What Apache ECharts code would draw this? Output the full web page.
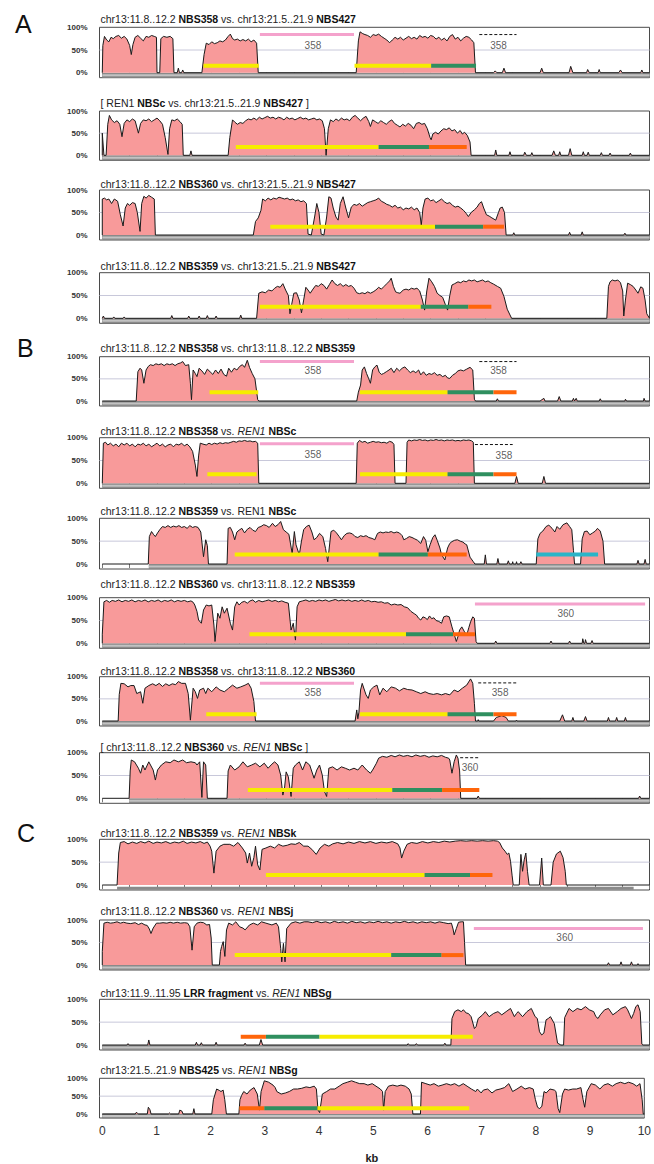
<!DOCTYPE html>
<html><head><meta charset="utf-8">
<script src="https://cdn.jsdelivr.net/npm/echarts@6.0.0/dist/echarts.min.js"></script>
<style>html,body{margin:0;padding:0;background:#fff}#c{width:654px;height:1164px}</style>
</head><body><div id="c"></div>
<script>
// ---------- DATA (kb, % identity) ----------
const p1 = [[0,0],[0.01,60],[0.04,80],[0.08,72],[0.12,68],[0.16,78],[0.2,75],[0.25,80],[0.3,82],[0.35,76],[0.4,80],[0.45,74],[0.5,60],[0.53,40],[0.56,62],[0.6,78],[0.65,82],[0.7,76],[0.75,70],[0.8,80],[0.85,78],[0.9,82],[0.95,80],[0.99,78],[1.0,0],[1.05,0],[1.07,75],[1.12,80],[1.18,78],[1.24,80],[1.29,75],[1.31,0],[1.37,0],[1.39,10],[1.41,0],[1.45,0],[1.47,6],[1.49,0],
[1.82,0],[1.86,40],[1.9,65],[1.95,62],[2.0,68],[2.05,64],[2.1,66],[2.15,70],[2.2,68],[2.25,72],[2.3,80],[2.34,85],[2.38,75],[2.42,72],[2.47,74],[2.52,70],[2.57,73],[2.62,70],[2.67,74],[2.72,68],[2.77,72],[2.82,65],[2.85,0],
[4.64,0],[4.68,70],[4.71,90],[4.76,86],[4.8,84],[4.85,82],[4.9,78],[4.95,84],[5.0,82],[5.05,85],[5.1,80],[5.15,76],[5.2,72],[5.25,66],[5.3,72],[5.35,78],[5.4,74],[5.45,78],[5.5,72],[5.55,76],[5.6,80],[5.65,75],[5.7,78],[5.75,74],[5.8,82],[5.85,78],[5.9,80],[5.95,76],[6.0,82],[6.05,80],[6.1,74],[6.15,78],[6.2,72],[6.25,76],[6.3,70],[6.35,80],[6.4,84],[6.45,74],[6.5,78],[6.55,70],[6.6,76],[6.65,80],[6.7,78],[6.75,72],[6.79,66],[6.82,0],
[7.15,0],[7.18,4],[7.21,0],[7.31,0],[7.34,10],[7.37,0],[8.0,0],[8.03,10],[8.06,0],[8.53,0],[8.56,14],[8.6,0],[8.85,0],[8.87,7],[8.9,0],[9.06,0],[9.08,7],[9.1,0],[9.44,0],[9.47,6],[9.5,0],[9.84,0],[9.86,6],[9.88,0],[10,0]];

const p2 = [[0,0],[0.0,50],[0.03,0],[0.07,0],[0.1,70],[0.13,90],[0.17,80],[0.22,74],[0.27,78],[0.32,70],[0.36,42],[0.4,72],[0.45,80],[0.5,76],[0.55,82],[0.6,78],[0.66,50],[0.7,72],[0.75,80],[0.8,78],[0.85,82],[0.9,76],[0.95,80],[1.0,84],[1.05,78],[1.1,70],[1.15,40],[1.2,2],[1.23,60],[1.27,80],[1.32,78],[1.37,82],[1.42,76],[1.46,70],[1.48,0],[1.6,0],[1.62,10],[1.64,0],
[2.3,0],[2.33,40],[2.38,80],[2.42,75],[2.47,70],[2.52,74],[2.57,72],[2.62,78],[2.67,82],[2.72,80],[2.77,84],[2.82,80],[2.87,86],[2.92,82],[2.97,85],[3.02,88],[3.07,84],[3.12,86],[3.17,82],[3.22,86],[3.27,84],[3.32,80],[3.37,86],[3.42,82],[3.47,84],[3.52,80],[3.57,83],[3.62,86],[3.67,82],[3.72,84],[3.77,80],[3.82,82],[3.87,84],[3.92,80],[3.97,82],[4.02,78],[4.06,60],[4.09,0],[4.13,60],[4.17,80],[4.22,76],[4.27,82],[4.32,78],[4.37,84],[4.42,80],[4.47,82],[4.52,78],[4.57,86],[4.62,90],[4.67,84],[4.72,78],[4.77,84],[4.82,88],[4.87,76],[4.9,65],[4.94,80],[4.99,76],[5.04,72],[5.09,78],[5.14,74],[5.19,70],[5.24,76],[5.29,80],[5.34,72],[5.39,68],[5.44,64],[5.49,70],[5.54,66],[5.59,72],[5.64,68],[5.69,60],[5.74,72],[5.79,74],[5.84,70],[5.89,72],[5.94,60],[5.99,40],[6.01,35],[6.04,48],[6.09,52],[6.14,48],[6.19,55],[6.24,60],[6.29,58],[6.34,62],[6.39,55],[6.44,58],[6.49,50],[6.54,56],[6.58,48],[6.62,52],[6.67,45],[6.72,30],[6.74,0],
[7.17,0],[7.19,12],[7.21,0],[7.43,0],[7.45,8],[7.47,0],[7.7,0],[7.72,7],[7.75,0],[7.83,0],[7.85,6],[7.87,0],[8.22,0],[8.25,10],[8.28,0],[8.34,0],[8.36,8],[8.38,0],[8.52,0],[8.55,15],[8.58,0],[8.77,0],[8.79,8],[8.81,0],[8.86,0],[8.88,7],[8.9,0],[9.1,0],[9.12,6],[9.14,0],[9.26,0],[9.28,5],[9.3,0],[9.63,0],[9.65,5],[9.67,0],[10,0]];

const p3 = [[0,0],[0.0,80],[0.04,82],[0.08,78],[0.12,80],[0.17,70],[0.22,80],[0.28,75],[0.33,45],[0.38,20],[0.42,60],[0.46,70],[0.5,66],[0.55,72],[0.6,70],[0.64,50],[0.69,8],[0.72,70],[0.76,86],[0.8,82],[0.85,88],[0.9,84],[0.95,80],[0.97,0],
[2.76,0],[2.8,30],[2.85,38],[2.9,55],[2.93,80],[2.98,76],[3.03,82],[3.08,78],[3.13,82],[3.18,80],[3.23,84],[3.28,82],[3.33,80],[3.38,82],[3.43,78],[3.48,80],[3.53,76],[3.58,78],[3.63,74],[3.68,76],[3.73,70],[3.76,2],[3.82,0],[3.88,40],[3.92,70],[3.96,50],[4.0,2],[4.05,0],[4.1,40],[4.14,85],[4.18,82],[4.22,60],[4.27,40],[4.31,33],[4.35,70],[4.4,85],[4.45,60],[4.5,38],[4.55,62],[4.6,68],[4.65,66],[4.7,70],[4.75,64],[4.8,68],[4.85,72],[4.9,74],[4.95,76],[5.0,78],[5.05,82],[5.1,75],[5.15,72],[5.2,68],[5.25,66],[5.3,62],[5.35,66],[5.4,60],[5.45,62],[5.5,56],[5.55,60],[5.6,58],[5.65,62],[5.7,56],[5.75,60],[5.8,50],[5.83,22],[5.86,60],[5.9,80],[5.95,82],[6.0,76],[6.05,78],[6.1,72],[6.15,76],[6.2,80],[6.25,74],[6.3,70],[6.35,72],[6.4,66],[6.45,62],[6.5,64],[6.55,60],[6.6,55],[6.65,48],[6.69,41],[6.74,50],[6.8,56],[6.85,62],[6.89,70],[6.93,74],[6.97,60],[7.02,45],[7.07,42],[7.12,38],[7.19,33],[7.24,50],[7.27,60],[7.31,62],[7.35,50],[7.38,0],
[7.5,0],[7.52,5],[7.54,0],[8.52,0],[8.54,6],[8.56,0],[8.75,0],[8.77,7],[8.79,0],[9.53,0],[9.55,4],[9.57,0],[10,0]];

const p4 = [[0,0],[0.02,5],[0.04,0],[0.19,0],[0.21,3],[0.23,0],[0.38,0],[0.4,3],[0.42,0],[1.25,0],[1.27,6],[1.29,0],[1.56,0],[1.58,5],[1.6,0],[1.75,0],[1.77,5],[1.79,0],[1.9,0],[1.92,6],[1.94,0],[2.06,0],[2.08,5],[2.1,0],[2.51,0],[2.53,7],[2.55,0],
[2.82,0],[2.86,55],[2.92,58],[2.98,56],[3.04,62],[3.1,60],[3.15,66],[3.2,70],[3.25,68],[3.3,76],[3.35,62],[3.4,50],[3.43,10],[3.46,30],[3.5,55],[3.55,56],[3.6,40],[3.64,12],[3.68,40],[3.72,68],[3.76,62],[3.8,55],[3.85,64],[3.9,72],[3.95,70],[4.0,76],[4.05,72],[4.1,64],[4.15,74],[4.2,84],[4.25,76],[4.3,72],[4.35,76],[4.4,70],[4.45,74],[4.5,70],[4.55,72],[4.6,66],[4.65,56],[4.7,54],[4.75,56],[4.8,54],[4.85,58],[4.9,55],[4.95,58],[5.0,62],[5.05,68],[5.1,64],[5.15,70],[5.2,76],[5.25,82],[5.28,88],[5.32,70],[5.36,58],[5.4,56],[5.44,55],[5.5,62],[5.55,64],[5.6,62],[5.65,66],[5.7,64],[5.75,66],[5.8,60],[5.85,40],[5.89,18],[5.93,60],[5.97,88],[6.02,80],[6.07,70],[6.12,55],[6.17,50],[6.22,46],[6.27,30],[6.31,18],[6.35,50],[6.39,73],[6.44,76],[6.5,80],[6.55,78],[6.6,82],[6.65,80],[6.7,84],[6.75,82],[6.8,84],[6.85,80],[6.9,82],[6.95,84],[7.0,80],[7.05,82],[7.1,78],[7.15,75],[7.22,70],[7.28,66],[7.34,48],[7.4,20],[7.46,5],[7.48,0],
[9.22,0],[9.25,70],[9.28,80],[9.32,84],[9.37,82],[9.42,84],[9.47,78],[9.51,60],[9.53,5],[9.56,40],[9.6,77],[9.65,74],[9.7,70],[9.75,62],[9.79,55],[9.84,69],[9.88,66],[9.92,40],[9.95,10],[10,0]];

const p5 = [[0,0],[0.62,0],[0.65,66],[0.69,74],[0.72,70],[0.76,40],[0.8,70],[0.84,78],[0.88,82],[0.93,80],[0.98,84],[1.03,82],[1.08,84],[1.13,80],[1.18,84],[1.23,82],[1.28,84],[1.33,80],[1.38,84],[1.43,86],[1.47,89],[1.52,80],[1.58,82],[1.61,40],[1.63,3],[1.66,70],[1.7,62],[1.73,55],[1.77,74],[1.82,68],[1.87,60],[1.92,72],[1.97,66],[2.02,60],[2.07,70],[2.12,62],[2.17,72],[2.22,60],[2.27,56],[2.31,74],[2.36,65],[2.41,74],[2.46,70],[2.51,78],[2.56,82],[2.6,76],[2.65,92],[2.69,76],[2.74,62],[2.79,50],[2.84,3],[2.86,0],
[4.65,0],[4.68,20],[4.72,36],[4.75,70],[4.79,77],[4.83,62],[4.87,50],[4.9,40],[4.94,70],[4.98,77],[5.02,81],[5.06,65],[5.1,60],[5.14,62],[5.19,66],[5.24,70],[5.28,74],[5.33,64],[5.38,74],[5.43,68],[5.48,74],[5.53,77],[5.58,70],[5.63,64],[5.68,68],[5.73,64],[5.78,70],[5.82,59],[5.87,66],[5.92,58],[5.97,62],[6.02,60],[6.07,64],[6.12,58],[6.17,60],[6.22,55],[6.27,58],[6.31,52],[6.35,51],[6.4,58],[6.45,62],[6.5,68],[6.55,70],[6.6,68],[6.66,72],[6.72,76],[6.77,70],[6.8,4],[6.82,0],
[7.2,0],[7.22,5],[7.24,0],[8.0,0],[8.07,6],[8.09,0],[8.32,0],[8.35,10],[8.38,0],[8.59,0],[8.61,6],[8.63,0],[8.64,0],[8.66,6],[8.68,0],[9.08,0],[9.1,5],[9.12,0],[9.55,0],[9.56,4],[9.58,0],[9.89,0],[9.9,6],[9.92,0],[10,0]];

const p6 = [[0,0],[0.02,88],[0.06,90],[0.1,84],[0.15,88],[0.2,82],[0.25,86],[0.3,80],[0.35,88],[0.4,84],[0.45,88],[0.5,82],[0.55,86],[0.6,80],[0.65,86],[0.7,84],[0.75,88],[0.8,82],[0.85,86],[0.9,80],[0.95,84],[1.0,88],[1.05,82],[1.1,86],[1.15,80],[1.2,84],[1.25,86],[1.3,80],[1.35,86],[1.4,84],[1.45,88],[1.5,82],[1.55,86],[1.6,80],[1.65,70],[1.7,40],[1.73,15],[1.76,60],[1.79,88],[1.84,86],[1.9,84],[1.95,88],[2.0,85],[2.05,88],[2.1,86],[2.15,89],[2.2,87],[2.25,89],[2.3,88],[2.35,90],[2.4,92],[2.45,90],[2.5,93],[2.55,92],[2.6,94],[2.65,92],[2.7,93],[2.75,91],[2.8,92],[2.84,88],[2.86,0],
[4.64,0],[4.66,88],[4.7,94],[4.75,90],[4.8,92],[4.85,88],[4.9,90],[4.95,92],[5.0,90],[5.05,91],[5.1,89],[5.15,90],[5.2,88],[5.25,92],[5.3,90],[5.33,85],[5.35,0],[5.55,0],[5.57,90],[5.6,95],[5.65,93],[5.7,95],[5.75,94],[5.8,96],[5.85,94],[5.9,95],[5.95,93],[6.0,95],[6.05,94],[6.1,96],[6.15,94],[6.2,95],[6.25,93],[6.3,95],[6.35,94],[6.4,95],[6.45,93],[6.5,94],[6.55,93],[6.6,95],[6.65,94],[6.7,95],[6.75,93],[6.78,90],[6.8,0],
[7.54,0],[7.57,15],[7.6,0],[8.04,0],[8.07,15],[8.1,0],[10,0]];

const p7 = [[0,0],[0.84,0],[0.86,60],[0.9,71],[0.94,64],[0.97,60],[1.01,68],[1.05,75],[1.1,82],[1.15,80],[1.2,84],[1.25,80],[1.3,83],[1.35,81],[1.4,84],[1.45,80],[1.5,82],[1.55,78],[1.6,84],[1.65,80],[1.7,82],[1.75,80],[1.8,70],[1.85,16],[1.89,53],[1.92,40],[1.94,0],
[2.28,0],[2.3,78],[2.34,80],[2.38,70],[2.42,53],[2.46,70],[2.5,74],[2.55,78],[2.6,68],[2.65,76],[2.7,80],[2.75,74],[2.8,71],[2.85,80],[2.9,82],[2.95,86],[3.0,84],[3.05,80],[3.11,89],[3.16,82],[3.21,86],[3.26,93],[3.31,75],[3.36,70],[3.41,65],[3.47,23],[3.51,71],[3.54,42],[3.6,20],[3.64,50],[3.68,75],[3.73,82],[3.78,85],[3.83,70],[3.87,53],[3.92,58],[3.97,67],[4.03,60],[4.08,34],[4.12,5],[4.18,71],[4.23,74],[4.28,68],[4.33,60],[4.37,53],[4.42,62],[4.47,67],[4.52,68],[4.57,66],[4.62,60],[4.67,58],[4.72,62],[4.77,60],[4.82,62],[4.87,58],[4.93,56],[4.98,53],[5.03,67],[5.08,70],[5.13,68],[5.18,70],[5.23,69],[5.28,71],[5.33,68],[5.38,70],[5.43,68],[5.48,62],[5.51,53],[5.56,56],[5.61,60],[5.66,58],[5.71,55],[5.76,52],[5.82,45],[5.87,60],[5.91,52],[5.95,27],[5.99,42],[6.04,58],[6.08,64],[6.12,52],[6.17,35],[6.2,20],[6.26,9],[6.31,35],[6.35,45],[6.39,49],[6.44,52],[6.49,53],[6.54,50],[6.59,48],[6.63,44],[6.66,42],[6.72,15],[6.78,5],[6.81,0],
[6.98,0],[7.0,20],[7.02,0],[7.21,0],[7.23,12],[7.25,0],[7.4,0],[7.42,7],[7.44,0],[7.49,0],[7.5,5],[7.51,0],[7.56,0],[7.57,5],[7.58,0],[7.63,0],[7.65,5],[7.67,0],
[7.93,0],[7.96,55],[8.0,67],[8.05,72],[8.11,82],[8.16,85],[8.22,78],[8.27,70],[8.31,82],[8.36,76],[8.42,86],[8.49,90],[8.54,82],[8.58,75],[8.61,30],[8.63,0],[8.74,0],[8.77,55],[8.81,71],[8.86,72],[8.91,64],[8.96,68],[9.01,72],[9.05,78],[9.1,72],[9.15,50],[9.18,0],
[9.77,0],[9.79,8],[9.81,0],[9.9,0],[9.92,10],[9.94,0],[10,0]];

const p8 = [[0,0],[0.0,20],[0.03,91],[0.08,94],[0.13,90],[0.18,94],[0.24,92],[0.3,95],[0.36,91],[0.42,94],[0.48,92],[0.54,95],[0.6,91],[0.66,94],[0.72,92],[0.78,95],[0.84,91],[0.9,94],[0.96,92],[1.02,95],[1.08,91],[1.14,94],[1.2,92],[1.26,95],[1.32,91],[1.38,94],[1.44,92],[1.5,94],[1.56,91],[1.62,93],[1.66,90],[1.69,84],[1.73,70],[1.76,51],[1.81,44],[1.85,73],[1.9,84],[1.95,82],[2.0,84],[2.04,40],[2.06,4],[2.11,66],[2.15,55],[2.19,80],[2.23,66],[2.28,77],[2.34,44],[2.38,29],[2.42,80],[2.46,91],[2.5,84],[2.55,90],[2.6,92],[2.65,88],[2.7,93],[2.75,95],[2.8,90],[2.86,94],[2.92,91],[2.98,93],[3.04,95],[3.1,92],[3.16,94],[3.22,91],[3.28,93],[3.34,90],[3.4,88],[3.45,29],[3.49,44],[3.53,7],[3.56,80],[3.6,91],[3.66,93],[3.72,95],[3.78,92],[3.84,94],[3.9,92],[3.96,95],[4.02,93],[4.08,95],[4.14,92],[4.2,94],[4.26,96],[4.32,93],[4.38,95],[4.44,93],[4.5,95],[4.56,92],[4.62,94],[4.68,92],[4.74,95],[4.8,92],[4.86,94],[4.92,91],[4.98,92],[5.04,90],[5.1,91],[5.16,88],[5.22,89],[5.28,84],[5.34,86],[5.4,84],[5.46,85],[5.52,80],[5.58,78],[5.64,70],[5.7,65],[5.74,62],[5.78,55],[5.82,51],[5.86,58],[5.9,56],[5.94,52],[5.98,60],[6.02,54],[6.06,56],[6.1,50],[6.15,48],[6.2,44],[6.24,58],[6.29,60],[6.34,58],[6.39,36],[6.43,20],[6.47,4],[6.5,15],[6.53,29],[6.57,36],[6.62,25],[6.66,18],[6.7,35],[6.73,47],[6.77,58],[6.8,55],[6.83,4],[6.85,0],
[7.17,0],[7.19,5],[7.21,0],[8.18,0],[8.2,5],[8.22,0],[8.52,0],[8.54,5],[8.56,0],[8.77,0],[8.78,10],[8.8,0],[8.82,0],[8.83,8],[8.85,0],[8.93,0],[8.95,6],[8.97,0],[10,0]];

const p9 = [[0,0],[0.29,0],[0.31,60],[0.34,85],[0.4,84],[0.47,77],[0.52,80],[0.58,80],[0.63,62],[0.7,66],[0.74,40],[0.78,74],[0.85,80],[0.92,84],[0.98,80],[1.04,85],[1.1,78],[1.16,84],[1.22,80],[1.28,84],[1.34,82],[1.39,89],[1.45,85],[1.52,85],[1.57,62],[1.61,2],[1.66,74],[1.7,66],[1.74,51],[1.78,70],[1.85,74],[1.89,62],[1.93,74],[2.0,66],[2.08,77],[2.15,70],[2.23,66],[2.31,74],[2.38,81],[2.46,74],[2.53,77],[2.61,81],[2.67,85],[2.72,74],[2.77,44],[2.8,0],
[4.62,0],[4.65,25],[4.67,5],[4.69,20],[4.72,70],[4.75,85],[4.79,70],[4.82,59],[4.86,51],[4.9,70],[4.96,77],[5.02,81],[5.07,59],[5.13,74],[5.2,66],[5.28,77],[5.36,74],[5.43,68],[5.51,74],[5.58,71],[5.66,70],[5.74,66],[5.82,62],[5.9,66],[5.97,62],[6.05,60],[6.12,62],[6.2,59],[6.27,62],[6.35,59],[6.43,70],[6.5,66],[6.58,74],[6.66,81],[6.73,95],[6.77,85],[6.8,40],[6.82,0],
[6.86,0],[6.87,3],[6.88,0],[7.15,0],[7.2,8],[7.3,12],[7.38,8],[7.42,0],[7.56,0],[7.57,2],[7.58,0],[8.36,0],[8.41,14],[8.45,0],[8.58,0],[8.6,8],[8.62,0],[8.8,0],[8.83,10],[8.86,0],[9.23,0],[9.25,8],[9.27,0],[9.38,0],[9.4,8],[9.42,0],[9.54,0],[9.56,8],[9.58,0],[10,0]];

const p10 = [[0,0],[0.49,0],[0.51,60],[0.53,84],[0.59,80],[0.66,66],[0.7,55],[0.74,73],[0.78,62],[0.85,80],[0.93,62],[0.97,40],[1.01,62],[1.08,73],[1.16,80],[1.24,78],[1.31,84],[1.39,80],[1.47,84],[1.54,78],[1.62,80],[1.7,78],[1.73,73],[1.78,80],[1.82,2],[1.85,80],[1.89,73],[1.92,0],
[2.28,0],[2.3,60],[2.34,73],[2.42,62],[2.5,69],[2.57,80],[2.65,69],[2.73,73],[2.8,77],[2.88,69],[2.96,77],[3.03,66],[3.1,75],[3.15,80],[3.21,73],[3.26,51],[3.3,7],[3.33,22],[3.36,58],[3.4,47],[3.45,4],[3.49,66],[3.53,73],[3.6,80],[3.66,62],[3.72,80],[3.79,73],[3.87,44],[3.92,62],[3.97,73],[4.02,51],[4.06,15],[4.1,4],[4.14,66],[4.21,69],[4.29,62],[4.37,69],[4.44,66],[4.52,62],[4.6,66],[4.67,62],[4.75,73],[4.83,62],[4.9,55],[4.94,62],[5.01,77],[5.05,88],[5.12,92],[5.2,90],[5.28,94],[5.35,91],[5.43,95],[5.5,92],[5.58,94],[5.66,91],[5.73,95],[5.81,92],[5.89,94],[5.97,90],[6.04,93],[6.12,91],[6.2,94],[6.27,90],[6.33,88],[6.35,84],[6.39,55],[6.43,80],[6.47,95],[6.5,88],[6.53,60],[6.55,0],
[6.85,0],[6.87,5],[6.89,0],[9.8,0],[9.82,5],[9.84,0],[10,0]];

const p11 = [[0,0],[0.27,0],[0.3,70],[0.33,93],[0.4,95],[0.47,90],[0.55,94],[0.63,91],[0.7,95],[0.78,92],[0.85,96],[0.93,91],[1.0,94],[1.08,92],[1.16,95],[1.24,91],[1.32,94],[1.4,92],[1.48,96],[1.55,91],[1.63,94],[1.71,92],[1.79,95],[1.86,91],[1.92,94],[1.97,85],[2.0,74],[2.04,26],[2.08,74],[2.15,85],[2.22,89],[2.33,89],[2.4,85],[2.48,93],[2.56,81],[2.62,70],[2.65,48],[2.69,70],[2.73,41],[2.77,60],[2.8,85],[2.84,44],[2.88,33],[2.92,78],[2.99,81],[3.07,85],[3.15,81],[3.22,89],[3.3,85],[3.38,87],[3.45,90],[3.53,89],[3.6,93],[3.68,85],[3.76,85],[3.83,78],[3.91,67],[3.98,81],[4.06,89],[4.14,85],[4.21,90],[4.3,93],[4.4,90],[4.5,94],[4.6,91],[4.7,95],[4.8,92],[4.9,95],[5.0,91],[5.1,94],[5.2,92],[5.3,95],[5.4,90],[5.44,81],[5.47,59],[5.51,74],[5.57,89],[5.65,93],[5.75,91],[5.85,95],[5.95,92],[6.05,95],[6.15,93],[6.25,96],[6.35,94],[6.45,96],[6.55,97],[6.65,96],[6.75,97],[6.85,96],[6.95,97],[7.05,96],[7.15,97],[7.22,96],[7.26,93],[7.31,81],[7.36,74],[7.4,67],[7.43,70],[7.46,52],[7.49,20],[7.51,0],
[7.62,0],[7.65,67],[7.68,30],[7.71,55],[7.74,70],[7.77,30],[7.8,0],[7.99,0],[8.03,59],[8.06,0],[8.2,0],[8.24,50],[8.3,68],[8.37,74],[8.42,60],[8.46,30],[8.48,0],[10,0]];

const p12 = [[0,0],[0.0,30],[0.03,93],[0.09,95],[0.15,93],[0.21,94],[0.27,96],[0.33,93],[0.39,95],[0.45,93],[0.52,92],[0.6,94],[0.66,90],[0.72,93],[0.78,89],[0.82,88],[0.86,80],[0.89,70],[0.93,82],[0.99,93],[1.05,93],[1.11,94],[1.18,93],[1.24,95],[1.3,93],[1.37,95],[1.43,93],[1.5,94],[1.56,93],[1.6,85],[1.64,33],[1.68,85],[1.73,93],[1.79,95],[1.85,94],[1.91,89],[1.96,90],[1.99,60],[2.01,0],[2.14,0],[2.16,30],[2.18,41],[2.21,52],[2.24,19],[2.27,78],[2.31,93],[2.38,89],[2.44,96],[2.51,85],[2.57,82],[2.61,78],[2.69,89],[2.76,93],[2.84,89],[2.91,96],[2.99,93],[3.1,89],[3.18,93],[3.22,85],[3.26,37],[3.28,7],[3.31,48],[3.34,7],[3.37,81],[3.45,93],[3.53,96],[3.61,93],[3.69,96],[3.76,96],[3.84,94],[3.92,97],[4.0,94],[4.08,96],[4.16,93],[4.24,97],[4.32,94],[4.4,96],[4.48,93],[4.56,97],[4.64,94],[4.72,96],[4.8,93],[4.88,96],[4.96,94],[5.04,97],[5.12,94],[5.2,96],[5.28,93],[5.36,96],[5.44,94],[5.52,97],[5.6,94],[5.68,96],[5.76,93],[5.84,96],[5.92,94],[6.0,96],[6.08,93],[6.16,96],[6.24,94],[6.32,92],[6.38,93],[6.41,80],[6.43,67],[6.47,81],[6.51,95],[6.56,96],[6.6,96],[6.62,50],[6.64,0],
[9.23,0],[9.25,5],[9.27,0],[9.46,0],[9.48,7],[9.5,0],[9.65,0],[9.67,7],[9.69,0],[9.78,0],[9.79,3],[9.8,0],[10,0]];

const p13 = [[0,0],[0.45,0],[0.47,3],[0.49,0],[0.83,0],[0.85,11],[0.87,0],[1.7,0],[1.72,6],[1.74,0],[1.79,0],[1.81,5],[1.83,0],[2.06,0],[2.08,6],[2.1,0],[2.59,0],[2.61,4],[2.63,0],[2.87,0],[2.9,12],[2.93,0],[5.57,0],[5.59,3],[5.61,0],[5.72,0],[5.74,3],[5.76,0],[6.24,0],[6.26,4],[6.28,0],
[6.37,0],[6.39,58],[6.44,73],[6.5,77],[6.56,73],[6.6,77],[6.65,70],[6.69,69],[6.74,62],[6.8,36],[6.83,40],[6.87,58],[6.95,66],[7.0,73],[7.07,62],[7.15,69],[7.23,73],[7.3,66],[7.38,73],[7.46,80],[7.53,62],[7.57,69],[7.6,73],[7.68,62],[7.76,73],[7.84,80],[7.91,62],[7.95,58],[7.99,29],[8.03,22],[8.07,26],[8.11,55],[8.15,58],[8.19,62],[8.26,47],[8.32,4],[8.38,0],[8.43,0],[8.45,60],[8.53,80],[8.6,73],[8.68,80],[8.75,77],[8.83,84],[8.9,77],[8.98,73],[9.02,62],[9.06,58],[9.1,66],[9.18,77],[9.25,80],[9.33,66],[9.41,73],[9.48,80],[9.56,84],[9.6,77],[9.64,66],[9.67,58],[9.71,69],[9.75,84],[9.79,88],[9.83,73],[9.86,2],[9.88,0],[10,0]];

const p14 = [[0,0],[0.61,0],[0.63,5],[0.65,2],[0.67,0],[0.83,0],[0.85,19],[0.88,12],[0.9,0],[1.22,0],[1.24,3],[1.26,0],[1.41,0],[1.43,11],[1.47,8],[1.49,0],[1.67,0],[1.69,15],[1.71,0],
[2.02,0],[2.05,40],[2.11,70],[2.16,66],[2.19,63],[2.23,67],[2.26,40],[2.29,0],
[2.52,0],[2.54,40],[2.57,52],[2.61,63],[2.67,56],[2.73,67],[2.8,74],[2.86,56],[2.9,11],[2.93,63],[2.99,93],[3.07,89],[3.15,81],[3.19,74],[3.22,63],[3.3,56],[3.38,59],[3.45,63],[3.53,70],[3.6,70],[3.68,72],[3.76,76],[3.83,74],[3.91,78],[3.95,70],[3.98,11],[4.01,4],[4.06,56],[4.14,63],[4.21,70],[4.29,70],[4.37,78],[4.44,85],[4.52,89],[4.6,93],[4.67,89],[4.75,85],[4.83,85],[4.9,81],[4.98,85],[5.05,78],[5.13,70],[5.17,63],[5.19,11],[5.22,63],[5.28,78],[5.36,81],[5.44,78],[5.51,81],[5.59,78],[5.66,70],[5.7,56],[5.73,0],[5.87,0],[5.89,89],[5.97,85],[6.05,81],[6.12,85],[6.2,78],[6.27,81],[6.35,85],[6.43,81],[6.5,85],[6.58,78],[6.66,85],[6.73,78],[6.81,70],[6.89,63],[6.92,70],[6.99,59],[7.03,67],[7.11,70],[7.19,59],[7.26,67],[7.34,70],[7.42,74],[7.5,85],[7.57,63],[7.65,70],[7.73,78],[7.8,70],[7.88,74],[7.95,70],[7.99,41],[8.03,19],[8.07,15],[8.11,22],[8.15,63],[8.19,59],[8.26,70],[8.34,67],[8.37,63],[8.41,15],[8.44,4],[8.49,56],[8.53,70],[8.6,67],[8.68,70],[8.75,70],[8.83,74],[8.87,41],[8.9,19],[8.94,63],[9.02,85],[9.1,81],[9.18,70],[9.25,81],[9.33,85],[9.41,78],[9.48,85],[9.56,89],[9.64,85],[9.71,89],[9.79,85],[9.86,78],[9.92,85],[9.96,40],[9.98,0],[10,0]];

// annotation segments: [startKb, endKb, %, kind]  (Y yellow, G green, O orange, P pink, C cyan, D dashed)
const bars1 = [[1.85,2.86,15.5,'Y'],[4.61,6.01,15.5,'Y'],[6.01,6.83,15.5,'G'],[2.88,4.6,84,'P'],[6.89,7.57,84,'D']];
const bars2 = [[2.44,5.05,19,'Y'],[5.05,5.97,19,'G'],[5.97,6.66,19,'O']];
const bars3 = [[3.07,6.08,18.5,'Y'],[6.08,6.96,18.5,'G'],[6.96,7.34,18.5,'O']];
const bars4 = [[2.88,5.82,25.5,'Y'],[5.82,6.69,25.5,'G'],[6.69,7.11,25.5,'O']];
const bars5 = [[1.96,2.85,19.5,'Y'],[4.71,6.31,19.5,'Y'],[6.31,7.15,19.5,'G'],[7.15,7.57,19.5,'O'],[2.88,4.6,89,'P'],[6.89,7.57,89,'D']];
const bars6 = [[1.92,2.82,20,'Y'],[4.71,6.31,20,'Y'],[6.31,7.15,20,'G'],[7.15,7.57,20,'O'],[2.88,4.6,87,'P'],[6.81,7.5,85,'D']];
const bars7 = [[2.42,5.05,21,'Y'],[5.05,5.95,21,'G'],[5.95,6.66,21,'O'],[7.93,9.06,21,'C']];
const bars8 = [[2.69,5.55,20,'Y'],[5.55,6.41,20,'G'],[6.41,6.81,20,'O'],[6.81,9.92,86,'P']];
const bars9 = [[1.9,2.82,15,'Y'],[4.71,6.31,15,'Y'],[6.31,7.15,15,'G'],[7.15,7.57,15,'O'],[2.88,4.6,85,'P'],[6.87,7.57,86,'D']];
const bars10 = [[2.66,5.3,18,'Y'],[5.3,6.21,18,'G'],[6.21,6.89,18,'O'],[6.54,6.89,89,'D']];
const bars11 = [[2.99,5.89,22,'Y'],[5.89,6.72,22,'G'],[6.72,7.13,22,'O']];
const bars12 = [[2.42,5.28,22,'Y'],[5.28,6.2,22,'G'],[6.2,6.6,22,'O'],[6.79,9.88,81,'P']];
const bars13 = [[2.53,2.99,18,'O'],[2.99,3.97,18,'G'],[3.97,6.77,18,'Y']];
const bars14 = [[2.53,2.99,16,'O'],[2.99,3.97,16,'G'],[3.97,6.77,16,'Y']];

// text marks: [kb, %, text]
const lbl1 = [[3.85,61,'358'],[7.24,61,'358']];
const lbl5 = [[3.85,68,'358'],[7.24,68,'358']];
const lbl6 = [[3.85,63.5,'358'],[7.34,62,'358']];
const lbl8 = [[8.47,66,'360']];
const lbl9 = [[3.85,64,'358'],[7.27,64,'358']];
const lbl10 = [[6.72,68,'360']];
const lbl12 = [[8.45,61,'360']];

// aligned sequence extent (kb) per panel
const seqRanges = [[0,10],[0,10],[0,10],[0,10],[0,10],[0,10],[0.85,10],[0,10],[0,10],[0.49,10],[0.27,9.71],[0,10],[0,10],[0,10]];

const titles = [
 'chr13:11.8..12.2 {b|NBS358} vs. chr13:21.5..21.9 {b|NBS427}',
 '[ REN1 {b|NBSc} vs. chr13:21.5..21.9 {b|NBS427} ]',
 'chr13:11.8..12.2 {b|NBS360} vs. chr13:21.5..21.9 {b|NBS427}',
 'chr13:11.8..12.2 {b|NBS359} vs. chr13:21.5..21.9 {b|NBS427}',
 'chr13:11.8..12.2 {b|NBS358} vs. chr13:11.8..12.2 {b|NBS359}',
 'chr13:11.8..12.2 {b|NBS358} vs. {i|REN1} {b|NBSc}',
 'chr13:11.8..12.2 {b|NBS359} vs. REN1 {b|NBSc}',
 'chr13:11.8..12.2 {b|NBS360} vs. chr13:11.8..12.2 {b|NBS359}',
 'chr13:11.8..12.2 {b|NBS358} vs. chr13:11.8..12.2 {b|NBS360}',
 '[ chr13:11.8..12.2 {b|NBS360} vs. {i|REN1} {b|NBSc} ]',
 'chr13:11.8..12.2 {b|NBS359} vs. {i|REN1} {b|NBSk}',
 'chr13:11.8..12.2 {b|NBS360} vs. {i|REN1} {b|NBSj}',
 'chr13:11.9..11.95 {b|LRR fragment} vs. {i|REN1} {b|NBSg}',
 'chr13:21.5..21.9 {b|NBS425} vs. {i|REN1} {b|NBSg}'
];
const panelLetters = ['A','B','C'];
const xTickValues = [0,0.5,1,1.5,2,2.5,3,3.5,4,4.5,5,5.5,6,6.5,7,7.5,8,8.5,9,9.5,10];
const xLabelValues = [0,1,2,3,4,5,6,7,8,9,10];
const yLabelValues = [0,50,100];
const midLineValue = 50;

// ---------- LAYOUT ----------
// [y of 100%, y of 0%, title centre y]
const layout = [
 [27.3,72.7,19.3],[111,155.3,103.3],[190,235,184],[272.7,318.3,265.7],
 [356.7,401,348.3],[437.7,483.3,431],[518.3,564,510.7],[597.7,643.3,584.3],
 [676.7,721,670.7],[752.7,798.3,747.3],[839.3,885,832.7],[920,965,911],
 [999.3,1045,992.7],[1078.3,1123.3,1070]
];
const dataSets = [p1,p2,p3,p4,p5,p6,p7,p8,p9,p10,p11,p12,p13,p14];
const barSets = [bars1,bars2,bars3,bars4,bars5,bars6,bars7,bars8,bars9,bars10,bars11,bars12,bars13,bars14];
const lblSets = [lbl1,[],[],[],lbl5,lbl6,[],lbl8,lbl9,lbl10,[],lbl12,[],[]];
const letterPos = [[15,24],[17,348],[17,833]];

const FONT = '"Liberation Sans", Arial, Helvetica, sans-serif';
const COL = {Y:'#f6ec00', G:'#2f8f5f', O:'#ff650a', P:'#f4a2cc', C:'#2bb5c8', D:'#111'};
const GRID_L = 99.5, GRID_W = 550, XMIN = -0.051, XMAX = 10.0, BAR_PX = 5;

const grids=[], xAxes=[], yAxes=[], series=[], graphics=[];
layout.forEach((L,i)=>{
  const top=L[0], zero=L[1], h=zero-top;
  const yMin = -BAR_PX*100/h;
  grids.push({left:GRID_L, width:GRID_W, top:top, height:h+BAR_PX, show:true, borderColor:'#4a4a4a', borderWidth:1, backgroundColor:'#fff'});
  const last = i===layout.length-1;
  xAxes.push({type:'value', gridIndex:i, min:XMIN, max:XMAX,
    axisLine:{show:false}, splitLine:{show:false},
    axisTick:{show:true, customValues:xTickValues, length:4, inside:false, lineStyle:{color:'#777', width:1}},
    axisLabel:{show:last, customValues:xLabelValues, margin:7, fontSize:12, color:'#333', fontFamily:FONT},
    name:last?'kb':'', nameLocation:'middle', nameGap:34,
    nameTextStyle:{fontWeight:'bold', fontSize:11, color:'#222', fontFamily:FONT}});
  yAxes.push({type:'value', gridIndex:i, min:yMin, max:100,
    axisLine:{show:false}, axisTick:{show:false}, splitLine:{show:false},
    axisLabel:{customValues:yLabelValues, formatter:v=>v+'%', fontSize:8, fontWeight:'bold', color:'#333', margin:12, fontFamily:FONT}});
  const sr = seqRanges[i];
  const thin = (i===10);
  const barY = thin ? yMin*0.65 : yMin/2;
  // 50% reference line, beneath the identity profile
  series.push({type:'line', xAxisIndex:i, yAxisIndex:i, data:[[XMIN,midLineValue],[XMAX,midLineValue]], symbol:'none', silent:true, z:1,
    lineStyle:{width:1, color:'#c8c8da'}});
  series.push({type:'line', xAxisIndex:i, yAxisIndex:i, data:[[sr[0],barY],[sr[1],barY]], symbol:'none', silent:true, z:1,
    lineStyle:{width:thin?3:5, color:'#8a8a8a', cap:'butt'}});
  if(!thin) series.push({type:'line', xAxisIndex:i, yAxisIndex:i, data:[[sr[0],barY],[sr[1],barY]], symbol:'none', silent:true, z:1,
    lineStyle:{width:2, color:'#c2c2c2', cap:'butt'}});
  series.push({type:'line', xAxisIndex:i, yAxisIndex:i, data:dataSets[i], symbol:'none', showSymbol:false, z:3,
    lineStyle:{width:1, color:'#1a1a1a'}, areaStyle:{color:'#f89a9a', opacity:1, origin:0}});
  barSets[i].forEach(b=>{
    const dashed = b[3]==='D';
    series.push({type:'line', xAxisIndex:i, yAxisIndex:i, data:[[b[0],b[2]],[b[1],b[2]]], symbol:'none', silent:true, z:4,
      lineStyle:{width:dashed?1:(b[3]==='P'?3:4), color:COL[b[3]], type:dashed?[3,2]:'solid', cap:'butt'}});
  });
  if(lblSets[i].length) series.push({type:'scatter', xAxisIndex:i, yAxisIndex:i, data:lblSets[i], symbolSize:1, z:5, silent:true,
    itemStyle:{color:'rgba(0,0,0,0)'},
    label:{show:true, position:'inside', formatter:p=>p.value[2], color:'#333', fontSize:10, fontFamily:FONT}});
  graphics.push({type:'text', x:GRID_L+1, y:L[2], silent:true,
    style:{text:titles[i], font:'10.5px '+FONT, fill:'#222', verticalAlign:'middle', align:'left',
      rich:{b:{fontWeight:'bold', fontSize:10.5, fontFamily:FONT, fill:'#111'}, i:{fontStyle:'italic', fontSize:10.5, fontFamily:FONT, fill:'#222'}}}});
});
panelLetters.forEach((t,k)=>{
  graphics.push({type:'text', x:letterPos[k][0], y:letterPos[k][1], silent:true,
    style:{text:t, font:'25px '+FONT, fill:'#111', verticalAlign:'middle', align:'left'}});
});

const chart = echarts.init(document.getElementById('c'), null, {renderer:'svg'});
chart.setOption({
  animation:false,
  backgroundColor:'#fff',
  textStyle:{fontFamily:FONT},
  grid:grids, xAxis:xAxes, yAxis:yAxes, series:series, graphic:graphics
});
</script></body></html>
